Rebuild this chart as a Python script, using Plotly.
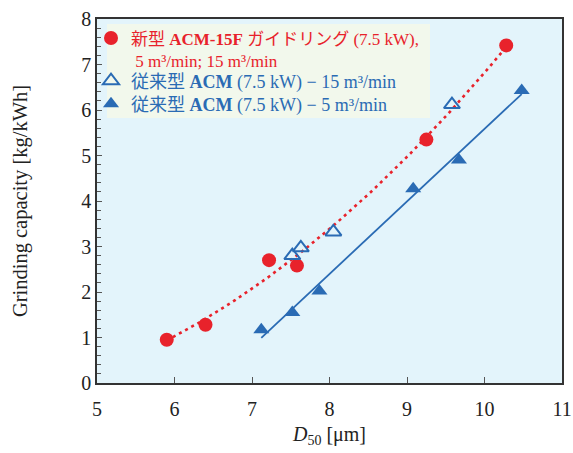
import numpy as np
import plotly.graph_objects as go

# Data
new_x = [5.9, 6.4, 7.22, 7.58, 9.25, 10.28]
new_y = [0.95, 1.28, 2.70, 2.58, 5.35, 7.42]

old15_x = [7.52, 7.63, 8.05, 9.58]
old15_y = [2.80, 2.97, 3.32, 6.12]

old5_x = [7.12, 7.52, 7.87, 9.08, 9.67, 10.48]
old5_y = [1.17, 1.55, 2.02, 4.27, 4.90, 6.43]

x_ticks = [5, 6, 7, 8, 9, 10, 11]
y_ticks = [0, 1, 2, 3, 4, 5, 6, 7, 8]

RED = "#e8222b"
BLUE = "#2a6bb4"
FONT = "Liberation Serif, Noto Sans CJK JP, serif"

# trend lines fitted to the data
cq = np.polyfit(new_x, new_y, 2)
fx = np.linspace(min(new_x), max(new_x), 80)
fy = np.polyval(cq, fx)
cl = np.polyfit(old5_x, old5_y, 1)
lx = np.array([min(old5_x), max(old5_x)])
ly = np.polyval(cl, lx)

fig = go.Figure()
fig.add_trace(go.Scatter(x=fx, y=fy, mode="lines", showlegend=False,
                         line=dict(color=RED, width=2.6, dash="3px,4px"), hoverinfo="skip"))
fig.add_trace(go.Scatter(x=lx, y=ly, mode="lines", showlegend=False,
                         line=dict(color=BLUE, width=1.8), hoverinfo="skip"))

fig.add_trace(go.Scatter(
    x=new_x, y=new_y, mode="markers", legend="legend",
    marker=dict(symbol="circle", size=14, color=RED),
    name=f'<span style="color:{RED}">新型 <b>ACM-15F</b> ガイドリング (7.5 kW),<br> 5 m³/min; 15 m³/min</span>'))
fig.add_trace(go.Scatter(
    x=old15_x, y=old15_y, mode="markers", legend="legend2",
    marker=dict(symbol="triangle-up-open", size=14, color=BLUE, line=dict(width=2, color=BLUE)),
    name=f'<span style="color:{BLUE}">従来型 <b>ACM</b> (7.5 kW) − 15 m³/min</span>'))
fig.add_trace(go.Scatter(
    x=old5_x, y=old5_y, mode="markers", legend="legend3",
    marker=dict(symbol="triangle-up", size=14, color=BLUE),
    name=f'<span style="color:{BLUE}">従来型 <b>ACM</b> (7.5 kW) − 5 m³/min</span>'))

# legend background panel (paper coordinates)
PW, PH = 465, 364
fig.add_shape(type="rect", xref="paper", yref="paper", layer="below",
              x0=10 / PW, x1=333 / PW, y0=1 - 99 / PH, y1=1 - 5 / PH,
              fillcolor="#f2f8ec", line=dict(width=0))

leg_common = dict(xanchor="left", bgcolor="rgba(0,0,0,0)", borderwidth=0,
                  itemwidth=30, tracegroupgap=0)

fig.update_layout(
    width=573, height=448,
    margin=dict(l=97, r=11, t=19, b=65),
    paper_bgcolor="white",
    plot_bgcolor="#e3f4fb",
    font=dict(family=FONT, size=20, color="#222"),
    showlegend=True,
    legend=dict(x=-6 / PW, y=0.996, yanchor="top", valign="top",
                font=dict(family=FONT, size=17), **leg_common),
    legend2=dict(x=-6 / PW, y=1 - (81 - 19) / PH, yanchor="middle",
                 font=dict(family=FONT, size=18), **leg_common),
    legend3=dict(x=-6 / PW, y=1 - (104 - 19) / PH, yanchor="middle",
                 font=dict(family=FONT, size=18), **leg_common),
)
fig.update_xaxes(range=[5, 11], tickvals=x_ticks, ticks="inside", ticklen=6, tickcolor="#555",
                 showgrid=False, zeroline=False, showline=True, linecolor="#333", linewidth=1.5,
                 mirror=True, automargin=False, ticklabelstandoff=7,
                 title=dict(text="<i>D</i><sub>50</sub> [μm]", font=dict(size=20), standoff=18))
fig.update_yaxes(range=[0, 8], tickvals=y_ticks, ticks="inside", ticklen=5, tickcolor="#555",
                 showgrid=False, zeroline=False, showline=True, linecolor="#333", linewidth=1.5,
                 mirror=True, automargin=False,
                 minor=dict(ticks="inside", dtick=0.2, ticklen=4, tickcolor="#555", showgrid=False),
                 title=dict(text="Grinding capacity [kg/kWh]", font=dict(size=20.5), standoff=48))

fig.write_html(
    "out.html",
    config={"displayModeBar": False},
    post_script=("document.body.style.margin='0';"
                 "document.body.style.overflow='hidden';"
                 "document.documentElement.style.overflow='hidden';"),
)
